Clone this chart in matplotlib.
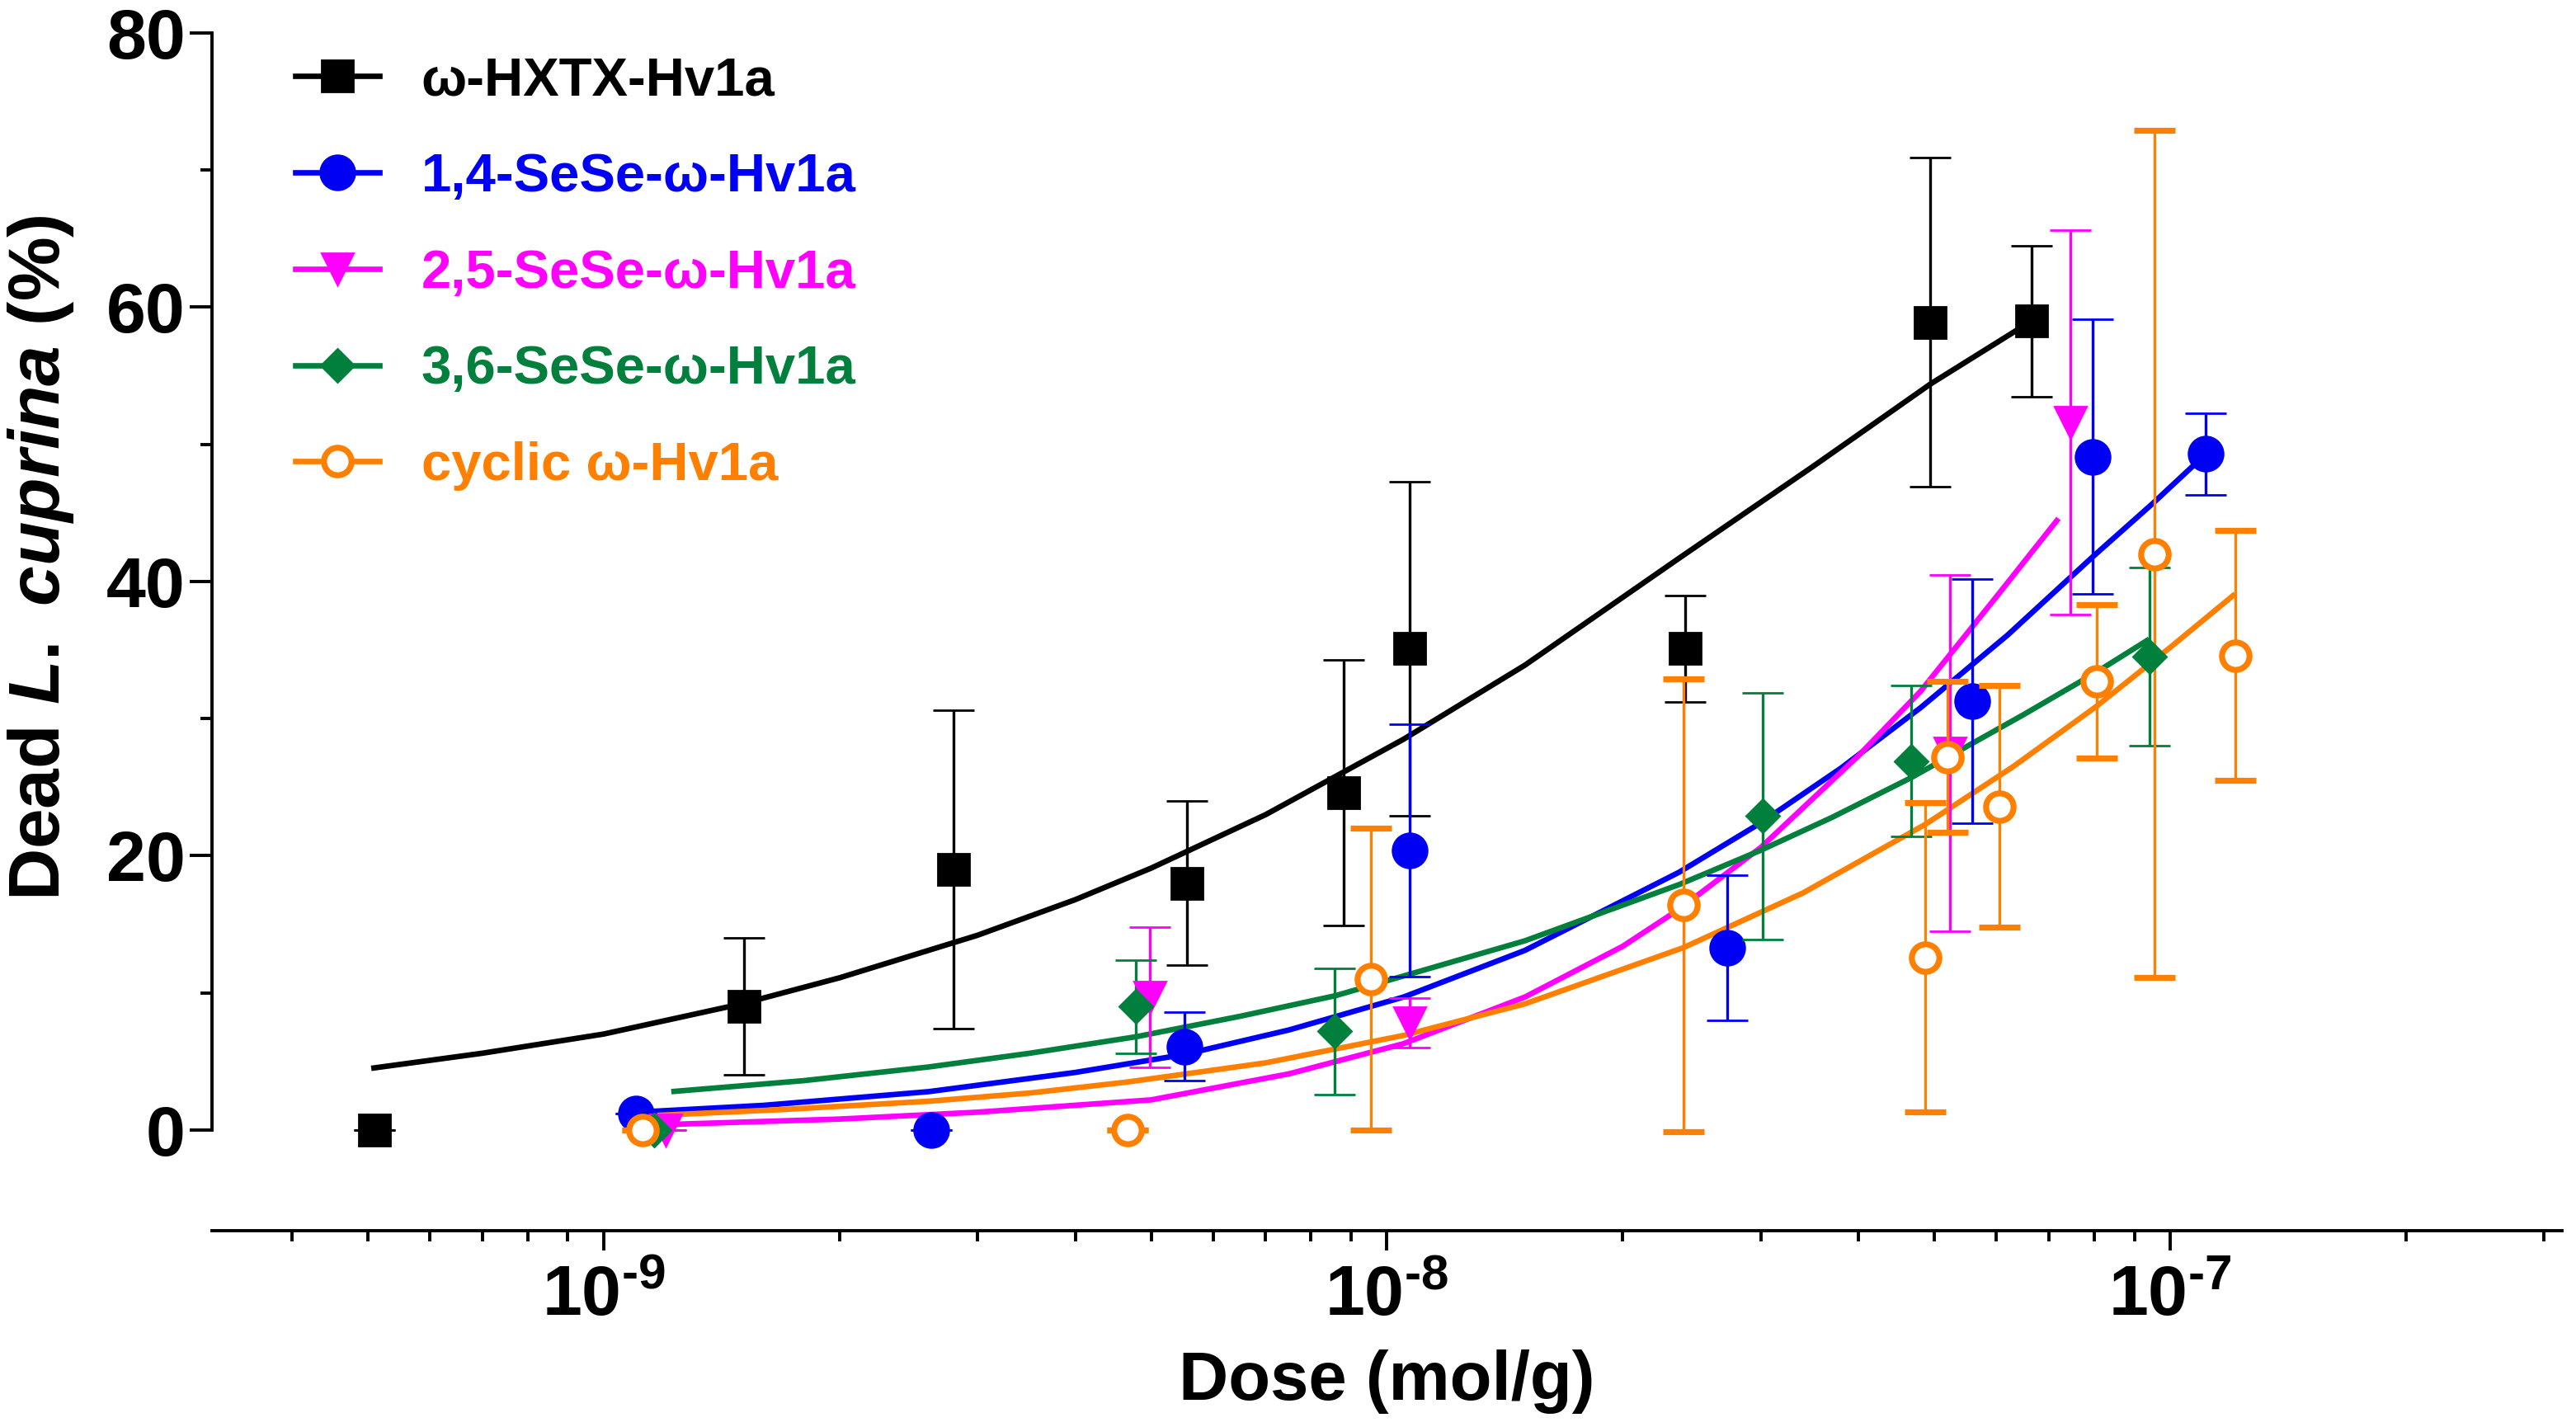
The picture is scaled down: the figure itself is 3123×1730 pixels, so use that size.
import matplotlib
matplotlib.use('Agg')
import matplotlib.pyplot as plt
from matplotlib.lines import Line2D
from matplotlib.ticker import LogLocator, NullFormatter, FixedLocator

plt.rcParams['font.family'] = ['Liberation Sans', 'DejaVu Sans']
plt.rcParams['font.weight'] = 'bold'
plt.rcParams['mathtext.fontset'] = 'custom'
plt.rcParams['mathtext.rm'] = 'Liberation Sans:bold'
plt.rcParams['mathtext.it'] = 'Liberation Sans:bold:italic'
plt.rcParams['mathtext.bf'] = 'Liberation Sans:bold'

# 測定値（Dose mol/g, Dead %）
hxtx_dose = [5.1e-10, 1.51e-9, 2.8e-9, 5.55e-9, 8.8e-9, 1.07e-8, 2.4e-8, 4.94e-8, 6.65e-8]
hxtx_dead = [0, 9.0, 19.0, 18.0, 24.6, 35.1, 35.1, 58.9, 59.0]
hxtx_err = [0, 5.0, 11.6, 6.0, 9.7, 12.2, 3.9, 12.0, 5.5]

sese14_dose = [1.1e-9, 2.62e-9, 5.52e-9, 1.07e-8, 2.72e-8, 5.59e-8, 7.96e-8, 1.11e-7]
sese14_dead = [1.2, 0, 6.1, 20.4, 13.3, 31.3, 49.1, 49.3]
sese14_err = [0, 0, 2.5, 9.2, 5.3, 8.9, 10.0, 3.0]

sese25_dose = [1.2e-9, 4.98e-9, 1.07e-8, 5.23e-8, 7.45e-8]
sese25_dead = [0, 9.7, 7.8, 27.5, 51.6]
sese25_err = [0, 5.1, 1.8, 13.0, 14.0]

sese36_dose = [1.16e-9, 4.78e-9, 8.58e-9, 3.02e-8, 4.67e-8, 9.4e-8]
sese36_dead = [0, 9.0, 7.2, 22.9, 26.9, 34.5]
sese36_err = [0, 3.4, 4.6, 9.0, 5.5, 6.5]

cyclic_dose = [1.12e-9, 4.66e-9, 9.53e-9, 2.39e-8, 4.87e-8, 5.2e-8, 6.05e-8, 8.05e-8, 9.55e-8, 1.21e-7]
cyclic_dead = [0, 0, 11.0, 16.4, 12.6, 27.2, 23.6, 32.7, 42.0, 34.6]
cyclic_err = [0, 0, 11.0, 16.5, 11.3, 5.5, 8.8, 5.6, 30.9, 9.1]

# フィット曲線（図から読み取った点）
hxtx_fit_dose = [5.05e-10, 7e-10, 1e-9, 1.5e-9, 2e-9, 3e-9, 4e-9, 5e-9, 7e-9, 1.05e-8,
                 1.5e-8, 2.36e-8, 3.5e-8, 4.94e-8, 6.65e-8]
hxtx_fit_dead = [4.5, 5.6, 7.0, 9.2, 11.1, 14.2, 16.8, 19.1, 23.0, 28.5,
                 33.9, 41.7, 48.4, 54.4, 59.0]

sese14_fit_dose = [1.1e-9, 1.6e-9, 2.6e-9, 4e-9, 5.5e-9, 7.5e-9, 1.05e-8, 1.5e-8, 2.36e-8,
                   3.0e-8, 3.8e-8, 4.8e-8, 6.2e-8, 7.96e-8, 9.5e-8, 1.11e-7]
sese14_fit_dead = [1.3, 1.8, 2.8, 4.2, 5.5, 7.3, 9.7, 13.1, 18.8,
                   22.4, 26.4, 30.8, 36.1, 41.8, 45.7, 49.3]

sese25_fit_dose = [1.2e-9, 2e-9, 3e-9, 5e-9, 7.5e-9, 1.05e-8, 1.5e-8, 2e-8, 2.36e-8,
                   3e-8, 4e-8, 4.8e-8, 6e-8, 7.2e-8]
sese25_fit_dead = [0.4, 0.8, 1.3, 2.2, 4.1, 6.3, 9.7, 13.4, 16.1,
                   20.6, 27.3, 32.0, 38.9, 44.6]

sese36_fit_dose = [1.22e-9, 1.8e-9, 2.6e-9, 3.5e-9, 4.78e-9, 6.5e-9, 8.6e-9, 1.5e-8, 2.36e-8,
                   3e-8, 3.7e-8, 4.67e-8, 6.5e-8, 8e-8, 9.4e-8]
sese36_fit_dead = [2.8, 3.6, 4.6, 5.6, 6.8, 8.3, 9.8, 13.8, 17.9,
                   20.4, 22.8, 25.7, 30.3, 33.3, 35.8]

cyclic_fit_dose = [1.1e-9, 1.7e-9, 2.6e-9, 3.5e-9, 4.66e-9, 7e-9, 1.05e-8, 1.5e-8, 2.39e-8,
                   3.4e-8, 4.87e-8, 6.3e-8, 8.05e-8, 1e-7, 1.21e-7]
cyclic_fit_dead = [1.0, 1.5, 2.1, 2.7, 3.5, 4.9, 6.9, 9.2, 13.3,
                   17.3, 22.3, 26.5, 30.9, 35.2, 39.1]

labels = ['ω-HXTX-Hv1a', '1,4-SeSe-ω-Hv1a', '2,5-SeSe-ω-Hv1a', '3,6-SeSe-ω-Hv1a', 'cyclic ω-Hv1a']
colors = ['#000000', '#0000F5', '#FF00FF', '#00803C', '#FF8000']
markers = ['s', 'o', 'v', 'D', 'o']
msizes = [14, 15, 14, 10, 12]

series = [
    (hxtx_dose, hxtx_dead, hxtx_err, hxtx_fit_dose, hxtx_fit_dead),
    (sese14_dose, sese14_dead, sese14_err, sese14_fit_dose, sese14_fit_dead),
    (sese25_dose, sese25_dead, sese25_err, sese25_fit_dose, sese25_fit_dead),
    (sese36_dose, sese36_dead, sese36_err, sese36_fit_dose, sese36_fit_dead),
    (cyclic_dose, cyclic_dead, cyclic_err, cyclic_fit_dose, cyclic_fit_dead),
]

W, H = 3123, 1730
fig = plt.figure(figsize=(W / 200, H / 200), dpi=200)
ax = fig.add_axes([257 / W, (H - 1492) / H, (3106 - 257) / W, (1492 - 40) / H])

draw_order = [4, 3, 1, 2, 0]
for i in draw_order:
    dose, dead, err, fdose, fdead = series[i]
    c = colors[i]
    ax.plot(fdose, fdead, color=c, lw=2.4, zorder=2 + i * 0.1,
            solid_capstyle='butt', solid_joinstyle='round')
    face = 'white' if i == 4 else c
    ax.errorbar(dose, dead, yerr=err, fmt=markers[i], color=c, ms=msizes[i],
                mfc=face, mec=c, mew=2.6 if i == 4 else 1,
                elinewidth=1.2, capsize=9, capthick=1.2, zorder=3 + i * 0.1)

ax.set_xscale('log')
ax.set_xlim(10 ** -9.5, 10 ** -6.5)
ax.set_ylim(-7.34, 80)

for s in ['top', 'right']:
    ax.spines[s].set_visible(False)
ax.spines['left'].set_bounds(0, 80)
ax.spines['left'].set_linewidth(1.4)
ax.spines['bottom'].set_linewidth(1.4)

ax.yaxis.set_major_locator(FixedLocator([0, 20, 40, 60, 80]))
ax.yaxis.set_minor_locator(FixedLocator([10, 30, 50, 70]))
ax.xaxis.set_major_locator(FixedLocator([1e-9, 1e-8, 1e-7]))
ax.xaxis.set_minor_locator(LogLocator(base=10, subs=range(2, 10), numticks=20))
ax.xaxis.set_minor_formatter(NullFormatter())
ax.set_xticklabels([r'$10^{\text{-9}}$', r'$10^{\text{-8}}$', r'$10^{\text{-7}}$'])

ax.tick_params(axis='y', which='major', length=9.6, width=1.4, labelsize=31, pad=2)
ax.tick_params(axis='y', which='minor', length=5, width=1.4)
ax.tick_params(axis='x', which='major', length=8.8, width=1.4, labelsize=31, pad=6)
ax.tick_params(axis='x', which='minor', length=4.8, width=1.4)

ax.set_xlabel('Dose (mol/g)', fontsize=30, fontweight='bold')
ax.xaxis.set_label_coords(0.5, -0.099)
ax.set_ylabel(r'Dead $\mathit{L.\ cuprina}$ (%)', fontsize=31.5, fontweight='bold')
ax.yaxis.set_label_coords(-0.058, 0.562)

handles = [Line2D([], [], color=colors[i], lw=2.4, marker=markers[i], ms=msizes[i],
                  mfc='white' if i == 4 else colors[i], mec=colors[i],
                  mew=2.6 if i == 4 else 1) for i in range(5)]
ax.legend(handles, labels, loc='upper left', bbox_to_anchor=(358 / W, 1 - 68 / H),
          bbox_transform=fig.transFigure, frameon=False,
          prop={'weight': 'bold', 'size': 23.5}, labelspacing=0.87,
          handlelength=1.56, handletextpad=0.78, borderpad=0, borderaxespad=0,
          labelcolor='linecolor')

fig.savefig('out.png', dpi=200)
